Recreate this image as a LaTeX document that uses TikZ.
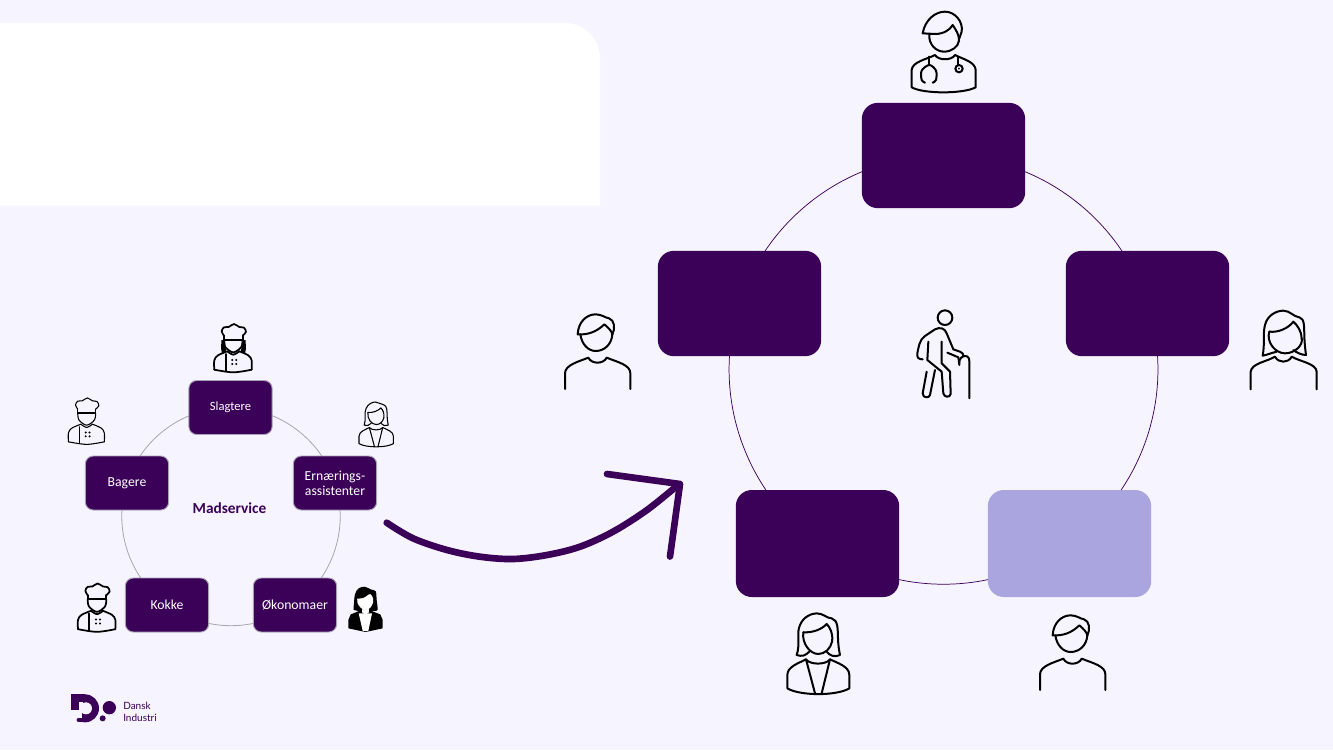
\documentclass[tikz,border=0pt]{standalone}
\usepackage{fontspec}
\setmainfont{Carlito}
\newfontfamily\logofont{Lato}
\usetikzlibrary{backgrounds}
\definecolor{pagebg}{HTML}{F6F4FE}
\definecolor{deep}{HTML}{3B0058}
\definecolor{lilac}{HTML}{AAA5DF}
\definecolor{edgeg}{HTML}{A9A3B5}
\newcommand{\sm}[1]{plot[smooth,tension=.55] coordinates {#1}}
\newcommand{\dn}[1]{\raisebox{-.7pt}{#1}}
\tikzset{
 bigbox/.style={rectangle,rounded corners=12pt,fill=deep,minimum width=122.5pt,minimum height=79pt,inner sep=0pt,outer sep=0pt},
 smallbox/.style={rectangle,rounded corners=6pt,fill=deep,draw=edgeg,line width=.7pt,minimum width=62.5pt,minimum height=40.5pt,inner sep=0pt,outer sep=0pt,text=white,font=\fontsize{10.3pt}{11.4pt}\selectfont,align=center},
 bigarc/.style={deep,line width=.55pt,bend left=36,looseness=.94},
 smallarc/.style={edgeg,line width=.6pt,bend left=36,looseness=.94},
 ic/.style={line width=1.5pt,line cap=round,line join=round,black},
 man/.pic={
  \draw[ic] (30,252)--(30,205) .. controls (30,180) and (70,170) .. (100,158) .. controls (110,178) and (145,178) .. (155,158) .. controls (190,172) and (226,180) .. (226,205) -- (226,252);
  \draw[ic] (68,88) .. controls (70,50) and (95,28) .. (122,28) .. controls (140,28) and (150,38) .. (162,40) .. controls (178,45) and (182,70) .. (172,88);
  \draw[ic] (68,88) .. controls (100,90) and (125,80) .. (148,58) .. controls (160,68) and (170,78) .. (172,88);
  \draw[ic] (76,88) .. controls (80,118) and (100,138) .. (122,138) .. controls (148,138) and (170,118) .. (172,88);
 },
 womanplain/.pic={
  \draw[ic] (32,268)--(32,215) .. controls (35,190) and (80,185) .. (105,170) .. controls (115,190) and (145,190) .. (155,170) .. controls (180,185) and (228,190) .. (230,215) -- (230,268);
  \draw[ic] (110,155) .. controls (90,160) and (80,165) .. (68,167) .. controls (75,130) and (68,100) .. (75,75) .. controls (82,45) and (110,32) .. (130,32) .. controls (150,32) and (160,50) .. (178,52) .. controls (195,55) and (192,85) .. (193,110) .. controls (194,135) and (196,150) .. (198,165) .. controls (185,165) and (170,158) .. (160,150);
  \draw[ic] (88,95) .. controls (115,98) and (145,85) .. (160,65) .. controls (172,75) and (185,95) .. (185,115);
  \draw[ic] (88,95) .. controls (78,125) and (105,160) .. (135,160) .. controls (165,160) and (190,135) .. (185,115);
 },
 womanjacket/.pic={
  \draw[ic] (52,265)--(52,225) .. controls (52,200) and (85,190) .. (108,178) .. controls (120,195) and (168,195) .. (180,178) .. controls (205,190) and (238,200) .. (238,225) -- (238,265) .. controls (200,288) and (90,288) .. (52,265);
  \draw[ic] (108,178)--(135,280) (180,178)--(155,280);
  \draw[ic] (118,155) .. controls (105,168) and (95,170) .. (80,165) .. controls (92,130) and (78,100) .. (90,75) .. controls (100,50) and (125,40) .. (140,40) .. controls (160,40) and (170,55) .. (185,55) .. controls (205,60) and (203,90) .. (204,115) .. controls (205,140) and (207,150) .. (210,165) .. controls (195,172) and (180,168) .. (170,155);
  \draw[ic] (100,97) .. controls (130,98) and (155,88) .. (170,72) .. controls (180,82) and (190,100) .. (186,125);
  \draw[ic] (100,97) .. controls (95,130) and (120,162) .. (145,162) .. controls (165,162) and (182,145) .. (186,125);
 },
 womandark/.pic={
  \fill[black] \sm{(80,165)(88,80)(110,48)(140,40)(175,55)(200,65)(205,110)(210,165)(190,170)(145,175)(100,170)} -- cycle;
  \fill[black] (108,172) -- (65,190) -- (52,220) -- (52,265) -- (145,285) -- (238,265) -- (238,220) -- (225,190) -- (180,172) -- cycle;
  \fill[white] (108,184) -- (130,280) -- (160,280) -- (180,184) -- cycle;
  \fill[white] \sm{(100,105)(135,100)(170,80)(186,105)(186,125)(170,155)(145,164)(120,155)(102,130)} -- cycle;
  \fill[white] (128,155) -- (162,155) -- (164,178) -- (145,192) -- (126,178) -- cycle;
 },
 chefbase/.pic={
  \draw[ic] \sm{(32,38)(25,25)(32,13)(46,12)(62,3)(78,12)(92,14)(98,27)(88,38)};
  \draw[ic] (32,38)--(32,50)--(88,50)--(88,38);
  \draw[ic] \sm{(32,50)(36,72)(60,88)(84,72)(88,50)};
  \draw[ic] \sm{(42,85)(14,97)(3,112)(3,140)};
  \draw[ic] \sm{(78,85)(105,97)(115,112)(115,140)};
  \draw[ic] \sm{(3,140)(60,148)(115,140)};
  \draw[ic] (37,93)--(37,145);
  \draw[ic] \sm{(42,85)(60,95)(78,85)};
  \fill[black] (57,111) circle (3.5) (69,111) circle (3.5) (57,123) circle (3.5) (69,123) circle (3.5);
 },
 elder/.pic={
  \draw[ic] (135,53) circle (22);
  \draw[ic] (68,178) .. controls (55,178) and (50,172) .. (52,160) .. controls (56,140) and (58,120) .. (75,108) -- (105,88) .. controls (120,80) and (135,85) .. (140,100) -- (160,148) -- (180,155) .. controls (188,158) and (190,162) .. (190,168);
  \draw[ic] (142,158)--(175,172)--(178,195);
  \draw[ic] (178,190) .. controls (176,175) and (188,168) .. (195,168) .. controls (205,168) and (208,175) .. (208,185) -- (208,295);
  \draw[ic] (85,125)--(82,180)--(125,215)--(130,280) .. controls (132,292) and (150,294) .. (152,282) -- (150,215)--(125,190)--(125,125);
  \draw[ic] (80,215)--(68,280) .. controls (68,295) and (88,295) .. (90,285) -- (105,210);
 },
 doctor/.pic={
  \draw[ic] (95,262)--(95,210) .. controls (97,185) and (140,178) .. (165,165) .. controls (175,182) and (215,182) .. (225,165) .. controls (250,178) and (285,185) .. (287,210) -- (287,262) .. controls (250,282) and (130,282) .. (95,262);
  \draw[ic] (128,100) .. controls (135,60) and (165,35) .. (195,35) .. controls (225,35) and (250,65) .. (245,95) -- (238,115);
  \draw[ic] (128,100) -- (165,102) .. controls (190,102) and (210,90) .. (218,75) .. controls (228,90) and (238,105) .. (237,122);
  \draw[ic] (148,103) .. controls (145,135) and (170,155) .. (192,155) .. controls (215,155) and (235,140) .. (237,122);
  \draw[ic] (148,170)--(148,195) (235,170)--(235,195);
  \draw[ic] \sm{(135,248)(125,240)(125,212)(148,195)(168,212)(168,240)(158,248)};
  \draw[ic] (237,206) circle (11);
  \fill[black] (237,206) circle (3);
 },
}
\begin{document}
\begin{tikzpicture}[x=0.75pt,y=-0.75pt]
\useasboundingbox (0,0) rectangle (1333,750);
% big ring
\node[bigbox] (top) at (943.5,155.5) {};
\node[bigbox] (lft) at (739.5,303.5) {};
\node[bigbox] (rgt) at (1147.5,303.5) {};
\node[bigbox,minimum height=80.25pt] (bl) at (817.5,543.5) {};
\node[bigbox,minimum height=80.25pt,fill=lilac] (br) at (1069.5,543.5) {};
% small ring
\node[smallbox,font=\fontsize{9.4pt}{11pt}\selectfont] (slag) at (230.5,407.5) {\dn{Slagtere}};
\node[smallbox] (ern) at (335,483) {Ernærings-\\assistenter};
\node[smallbox] (bag) at (127,483) {\dn{Bagere}};
\node[smallbox] (kok) at (167,605) {\dn{Kokke}};
\node[smallbox] (oko) at (295,605) {\dn{Økonomaer}};
\node[text=deep,font=\fontsize{11.5pt}{13pt}\selectfont\bfseries] (mad) at (229.5,508.5) {Madservice};
\begin{scope}[on background layer]
 \fill[pagebg] (0,0) rectangle (1333,750);
 \fill[white] (0,205.5) -- (0,23) -- (565,23) .. controls (584,23) and (600,39) .. (600,58) -- (600,205.5) -- cycle;
 \draw[bigarc] (top.center) to (rgt.center);
 \draw[bigarc] (rgt.center) to (br.center);
 \draw[bigarc] (br.center) to (bl.center);
 \draw[bigarc] (bl.center) to (lft.center);
 \draw[bigarc] (lft.center) to (top.center);
 \draw[smallarc] (slag.center) to (ern.center);
 \draw[smallarc] (ern.center) to (oko.center);
 \draw[smallarc] (oko.center) to (kok.center);
 \draw[smallarc] (kok.center) to (bag.center);
 \draw[smallarc] (bag.center) to (slag.center);
\end{scope}
% arrow
\draw[deep,line width=5pt,line cap=round,line join=round] \sm{(386.7,522.7)(413,538.3)(447,550)(480,556.7)(513,559)(547,555)(580,546.7)(613,531.7)(647,510)(678,485)};
\draw[deep,line width=5pt,line cap=round,line join=round] (607,474)--(680,484)--(670,556.5);
% icons
\pic[scale=1/3] at (555,305) {man};
\pic[scale=1/3] at (1030,606) {man};
\pic[scale=1/3] at (1240,300) {womanplain};
\pic[scale=1/3] at (770,600) {womanjacket};
\pic[scale=1/3] at (880,0) {doctor};
\pic[scale=1/3] at (900,300) {elder};
\pic[scale=.185] at (338.7,579.3) {womandark};
\tikzset{ic/.append style={line width=1.3pt}}
\pic[scale=1/3] at (77,582.5) {chefbase};
\pic[scale=1/3] at (213.3,323) {chefbase};
\fill[black] (221.5,340) -- (225,340) -- (226,352) -- (222,354) -- (221,348) -- cycle;
\fill[black] (242,340) -- (245.5,340) -- (246,348) -- (245,354) -- (241,352) -- cycle;
\tikzset{ic/.append style={line width=.8pt}}
\pic[scale=.32] at (67.5,397) {chefbase};
\pic[scale=.185] at (349.4,394.6) {womanjacket};
% logo
\begin{scope}[shift={(60,685)},scale=1/3]
 \fill[deep] (75,70) circle (42);
 \fill[deep] (32,28) rectangle (75,75);
 \fill[pagebg] (28,75) rectangle (66,116);
 \fill[pagebg] (78,70) circle (18);
 \fill[pagebg] (58,52) rectangle (70,75);
 \draw[deep,line width=3.2pt,line cap=round] (56,105) -- (76,105);
 \fill[deep] (148,68) circle (20) (128,100) circle (9);
\end{scope}
\node[text=deep,font=\logofont\fontsize{7.5pt}{9.2pt}\selectfont,align=left,anchor=west,inner sep=0pt] (logo) at (123,712) {Dansk\\Industri};
\end{tikzpicture}
\end{document}
